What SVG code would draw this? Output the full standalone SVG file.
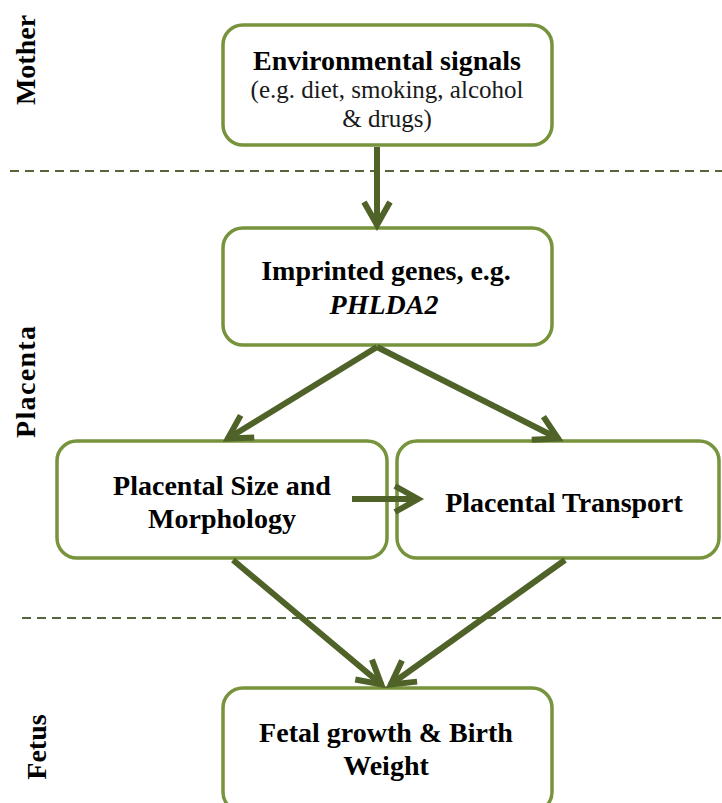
<svg xmlns="http://www.w3.org/2000/svg" width="722" height="803" viewBox="0 0 722 803">
<style>
.box{fill:#ffffff;stroke:#77933C;stroke-width:3.5}
.t{font-family:"Liberation Serif","Times New Roman",serif;font-size:28px;font-weight:bold;fill:#000;text-anchor:middle}
.s{font-family:"Liberation Serif","Times New Roman",serif;font-size:25px;fill:#1a1a1a;text-anchor:middle}
.side{font-family:"Liberation Serif","Times New Roman",serif;font-size:28px;font-weight:bold;fill:#000;text-anchor:middle}
.dash{stroke:#55663A;stroke-width:1.8;stroke-dasharray:9 6;fill:none}
.conn{stroke:#4F6228;stroke-width:6;fill:none}
</style>
<defs>
<marker id="arr" markerUnits="userSpaceOnUse" viewBox="-32 -20 40 40" markerWidth="40" markerHeight="40" refX="0" refY="0" orient="auto">
<path d="M-24,-13 L-1,0 L-24,13" fill="none" stroke="#4F6228" stroke-width="6" stroke-linejoin="miter"/>
</marker>
</defs>

<line class="dash" x1="10" y1="171" x2="722" y2="171"/>
<line class="dash" x1="22" y1="618" x2="722" y2="618"/>

<text class="side" transform="translate(35,60) rotate(-90)">Mother</text>
<text class="side" transform="translate(35,382) rotate(-90)" textLength="112" lengthAdjust="spacing">Placenta</text>
<text class="side" transform="translate(46,747) rotate(-90)">Fetus</text>

<g id="node-environmental">
<rect class="box" x="223" y="25" width="329" height="120" rx="20" ry="20"/>
<text class="t" x="387" y="70">Environmental signals</text>
<text class="s" x="387" y="98">(e.g. diet, smoking, alcohol</text>
<text class="s" x="387" y="127">&amp; drugs)</text>
</g>

<g id="node-imprinted">
<rect class="box" x="223" y="228" width="329" height="117" rx="20" ry="20"/>
<text class="t" x="386" y="280">Imprinted genes, e.g.</text>
<text class="t" x="384" y="314" font-style="italic">PHLDA2</text>
</g>

<g id="node-size">
<rect class="box" x="57" y="441" width="330" height="117" rx="20" ry="20"/>
<text class="t" x="222" y="495">Placental Size and</text>
<text class="t" x="222" y="528">Morphology</text>
</g>

<g id="node-transport">
<rect class="box" x="397" y="441" width="322" height="117" rx="20" ry="20"/>
<text class="t" x="564" y="512">Placental Transport</text>
</g>

<g id="node-fetal">
<rect class="box" x="223" y="688" width="329" height="124" rx="20" ry="20"/>
<text class="t" x="386" y="742">Fetal growth &amp; Birth</text>
<text class="t" x="386" y="775">Weight</text>
</g>

<g id="connectors">
<line class="conn" x1="377" y1="147" x2="377" y2="226" marker-end="url(#arr)"/>
<line class="conn" x1="377" y1="347" x2="227" y2="439" marker-end="url(#arr)"/>
<line class="conn" x1="377" y1="347" x2="559" y2="439" marker-end="url(#arr)"/>
<line class="conn" x1="352" y1="499" x2="419" y2="499" marker-end="url(#arr)"/>
<line class="conn" x1="233" y1="560" x2="382" y2="685" marker-end="url(#arr)"/>
<line class="conn" x1="565" y1="560" x2="390" y2="685" marker-end="url(#arr)"/>
</g>
</svg>
